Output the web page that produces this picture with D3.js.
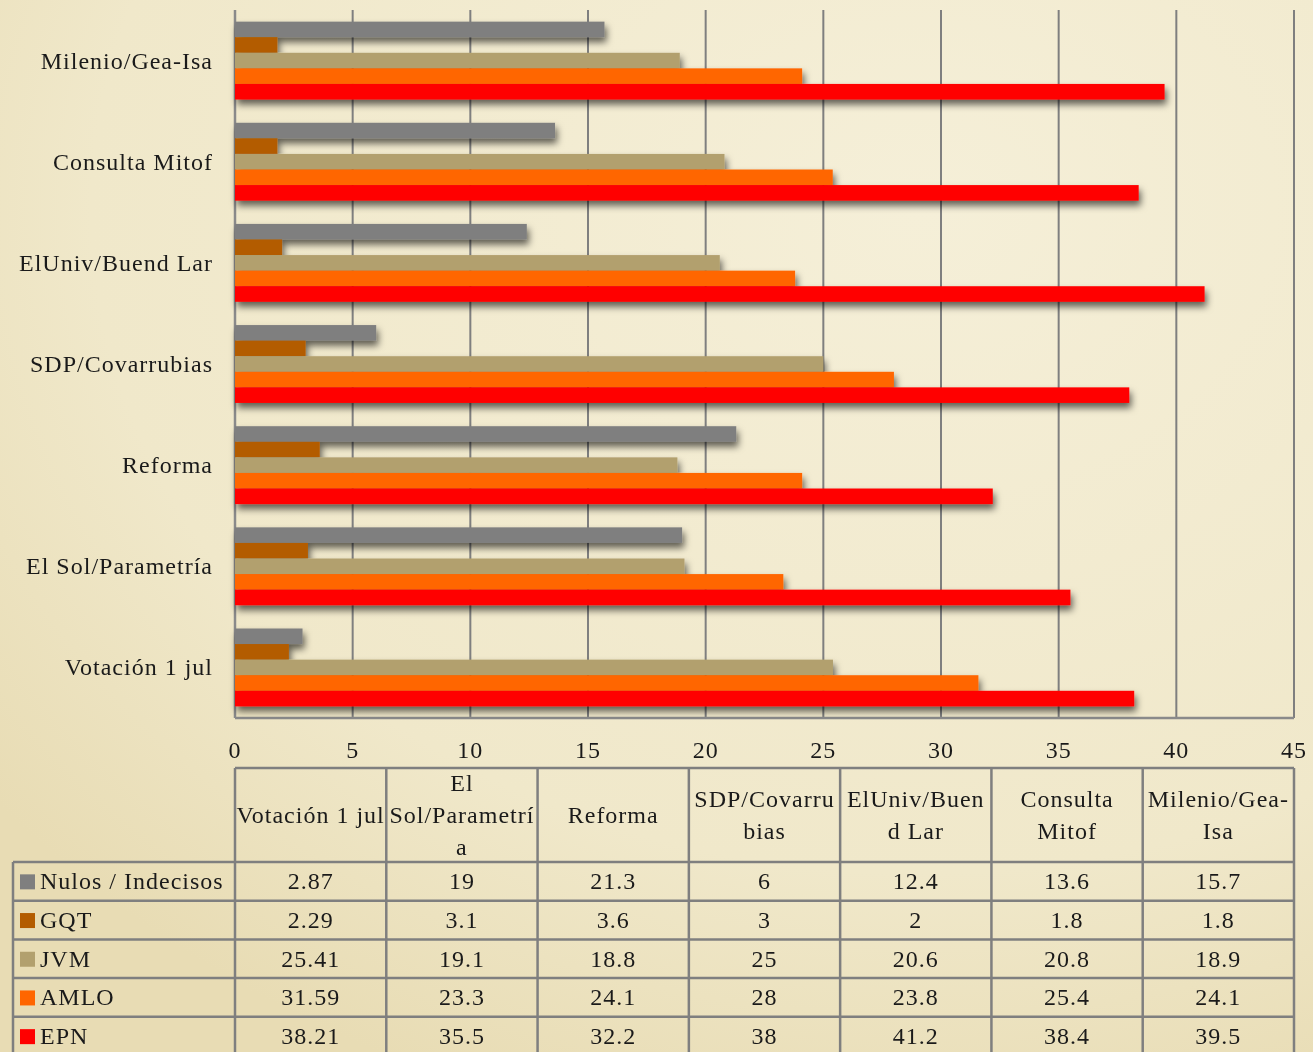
<!DOCTYPE html>
<html>
<head>
<meta charset="utf-8">
<script src="https://cdn.jsdelivr.net/npm/d3@7"></script>
<style>
  html, body { margin: 0; padding: 0; }
  body { width: 1313px; height: 1052px; overflow: hidden; background: #f1ead0; }
  svg text { font-family: "Liberation Serif", "DejaVu Serif", serif; fill: #1a1a1a; letter-spacing: 1px; }
</style>
</head>
<body>
<svg id="chart" width="1313" height="1052"></svg>
<script>
// categories in data order (first one is drawn at the bottom)
const categories = ['Votación 1 jul', 'El Sol/Parametría', 'Reforma', 'SDP/Covarrubias',
  'ElUniv/Buend Lar', 'Consulta Mitof', 'Milenio/Gea-Isa'];
// how the table header wraps each category
const headerLines = [['Votación 1 jul'], ['El', 'Sol/Parametrí', 'a'], ['Reforma'],
  ['SDP/Covarru', 'bias'], ['ElUniv/Buen', 'd Lar'], ['Consulta', 'Mitof'], ['Milenio/Gea-', 'Isa']];

const seriesNames = ['Nulos / Indecisos', 'GQT', 'JVM', 'AMLO', 'EPN'];
const seriesColors = ['#7f7f7f', '#b35c00', '#b2a06e', '#ff6600', '#ff0000'];

const nulos = [2.87, 19, 21.3, 6, 12.4, 13.6, 15.7];
const gqt = [2.29, 3.1, 3.6, 3, 2, 1.8, 1.8];
const jvm = [25.41, 19.1, 18.8, 25, 20.6, 20.8, 18.9];
const amlo = [31.59, 23.3, 24.1, 28, 23.8, 25.4, 24.1];
const epn = [38.21, 35.5, 32.2, 38, 41.2, 38.4, 39.5];
const seriesValues = [nulos, gqt, jvm, amlo, epn];

const xTicks = [0, 5, 10, 15, 20, 25, 30, 35, 40, 45];

const svg = d3.select('#chart');
const W = 1313, H = 1052;

const plotL = 235, plotR = 1294, plotT = 10, plotB = 718;

// parchment background
const defs = svg.append('defs');
const bg = defs.append('radialGradient').attr('id', 'bg')
  .attr('cx', '70%').attr('cy', '20%').attr('r', '90%');
bg.append('stop').attr('offset', '0%').attr('stop-color', '#f5efd8');
bg.append('stop').attr('offset', '70%').attr('stop-color', '#f0e8ca');
bg.append('stop').attr('offset', '100%').attr('stop-color', '#e8dcb4');

const shadow = defs.append('filter').attr('id', 'shadow')
  .attr('x', '-5%').attr('y', '-5%').attr('width', '115%').attr('height', '115%');
shadow.append('feDropShadow').attr('dx', 2).attr('dy', 5).attr('stdDeviation', 3.5)
  .attr('flood-color', '#000').attr('flood-opacity', 0.6);

svg.append('rect').attr('width', W).attr('height', H).attr('fill', 'url(#bg)');

const x = d3.scaleLinear().domain([0, 45]).range([plotL, plotR]);
const y = d3.scaleBand().domain(categories.slice().reverse()).range([plotT, plotB])
  .paddingInner(0.23).paddingOuter(0.115);
const ySub = d3.scaleBand().domain(seriesNames).range([0, y.bandwidth()]);

// gridlines
svg.append('g').selectAll('line').data(xTicks).join('line')
  .attr('x1', d => x(d)).attr('x2', d => x(d))
  .attr('y1', plotT).attr('y2', plotB)
  .attr('stroke', '#7f7f7f').attr('stroke-width', 2);
svg.append('line').attr('x1', plotL).attr('x2', plotR).attr('y1', plotB).attr('y2', plotB)
  .attr('stroke', '#8a8a8a').attr('stroke-width', 2.5);
svg.append('line').attr('x1', plotL).attr('x2', plotL).attr('y1', plotT).attr('y2', plotB)
  .attr('stroke', '#8a8a8a').attr('stroke-width', 2.5);

// bars with a soft drop shadow
const bars = svg.append('g').attr('filter', 'url(#shadow)');
categories.forEach((c, ci) => {
  const g = bars.append('g').attr('transform', `translate(0,${y(c)})`);
  seriesNames.forEach((s, si) => {
    g.append('rect')
      .attr('x', x(0))
      .attr('y', ySub(s))
      .attr('width', x(seriesValues[si][ci]) - x(0))
      .attr('height', ySub.bandwidth())
      .attr('fill', seriesColors[si]);
  });
});

// category labels
svg.append('g').selectAll('text').data(categories).join('text')
  .attr('x', plotL - 22)
  .attr('y', d => y(d) + y.bandwidth() / 2)
  .attr('text-anchor', 'end')
  .attr('dominant-baseline', 'central')
  .style('font-size', '24px')
  .text(d => d);

// x tick labels
svg.append('g').selectAll('text').data(xTicks).join('text')
  .attr('x', d => x(d))
  .attr('y', 750)
  .attr('text-anchor', 'middle')
  .attr('dominant-baseline', 'central')
  .style('font-size', '24px')
  .text(d => d);

// data table
const tableTop = 768, headerH = 94, rowH = 38.7, legendLeft = 13;
const col = d3.scaleBand().domain(categories).range([plotL, plotR]);
const rowY = i => tableTop + headerH + i * rowH;
const tableBottom = rowY(seriesNames.length);
const tg = svg.append('g');
const lineStyle = sel => sel.attr('stroke', '#7f7f7f').attr('stroke-width', 2.5);

tg.append('line').attr('x1', plotL).attr('x2', plotR).attr('y1', tableTop).attr('y2', tableTop).call(lineStyle);
seriesNames.forEach((s, i) => {
  tg.append('line').attr('x1', legendLeft).attr('x2', plotR)
    .attr('y1', rowY(i)).attr('y2', rowY(i)).call(lineStyle);
});
tg.append('line').attr('x1', legendLeft).attr('x2', legendLeft)
  .attr('y1', rowY(0)).attr('y2', tableBottom).call(lineStyle);
categories.concat([null]).forEach(c => {
  const xx = c ? col(c) : plotR;
  tg.append('line').attr('x1', xx).attr('x2', xx)
    .attr('y1', tableTop).attr('y2', tableBottom).call(lineStyle);
});

// header text
categories.forEach((c, i) => {
  const lines = headerLines[i];
  const cy = tableTop + headerH / 2;
  const lh = 32;
  lines.forEach((ln, li) => {
    tg.append('text')
      .attr('x', col(c) + col.bandwidth() / 2)
      .attr('y', cy + (li - (lines.length - 1) / 2) * lh)
      .attr('text-anchor', 'middle')
      .attr('dominant-baseline', 'central')
      .style('font-size', '24px')
      .text(ln);
  });
});

// legend column and values
seriesNames.forEach((s, si) => {
  const cy = rowY(si) + rowH / 2;
  tg.append('rect').attr('x', 20).attr('y', cy - 7).attr('width', 15).attr('height', 15)
    .attr('fill', seriesColors[si]);
  tg.append('text').attr('x', 40).attr('y', cy)
    .attr('dominant-baseline', 'central')
    .style('font-size', '24px')
    .text(s);
  categories.forEach((c, ci) => {
    tg.append('text')
      .attr('x', col(c) + col.bandwidth() / 2)
      .attr('y', cy)
      .attr('text-anchor', 'middle')
      .attr('dominant-baseline', 'central')
      .style('font-size', '24px')
      .text(seriesValues[si][ci]);
  });
});
</script>
</body>
</html>
